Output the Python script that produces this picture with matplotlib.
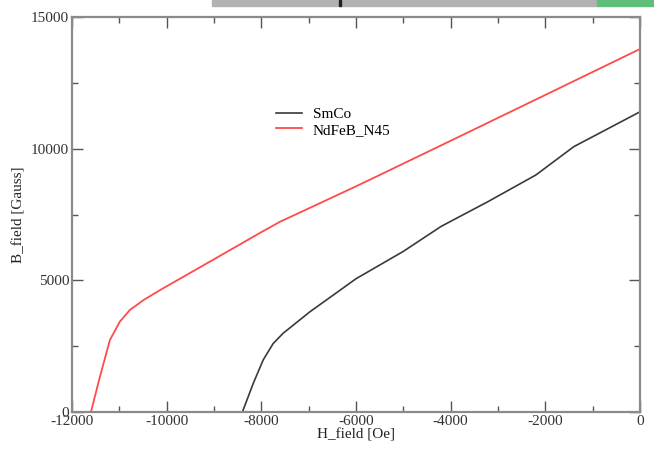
import matplotlib
matplotlib.use("Agg")
import matplotlib.pyplot as plt
from matplotlib.patches import Rectangle

# Demagnetization curves (H in Oe, B in Gauss)
smco_h = [-8400, -8170, -7960, -7750, -7540, -6970, -6000, -5000, -4200,
          -3200, -2200, -1400, 0]
smco_b = [0, 1090, 1980, 2600, 2990, 3810, 5060, 6100, 7050,
          8000, 9000, 10075, 11400]

ndfeb_h = [-11600, -11410, -11200, -10990, -10780, -10490, -10140, -9740,
           -9000, -8000, -7600, -7000, -6000, -5500, -4000, -2000, 0]
ndfeb_b = [0, 1340, 2730, 3430, 3870, 4250, 4630, 5040,
           5800, 6830, 7230, 7730, 8570, 9000, 10300, 12040, 13785]

x_ticks = [-12000, -10000, -8000, -6000, -4000, -2000, 0]
y_ticks = [0, 5000, 10000, 15000]

plt.rcParams["font.family"] = ["Liberation Serif", "DejaVu Serif"]
plt.rcParams["axes.unicode_minus"] = False

fig = plt.figure(figsize=(6.54, 4.54), dpi=100)
ax = fig.add_axes([72 / 654, 42 / 454, 568 / 654, 395 / 454])

ax.plot(smco_h, smco_b, color="#3a3a3a", lw=1.2, label="SmCo")
ax.plot(ndfeb_h, ndfeb_b, color="#ff4a4a", lw=1.3, label="NdFeB_N45")

ax.set_xlim(-12000, 0)
ax.set_ylim(0, 15000)
ax.set_xticks(x_ticks)
ax.set_yticks(y_ticks)
ax.set_xticks(range(-11000, 0, 2000), minor=True)
ax.set_yticks([2500, 7500, 12500], minor=True)

for s in ax.spines.values():
    s.set_color("#8a8a8a")
    s.set_linewidth(1.6)
ax.tick_params(which="both", direction="in", top=True, right=True,
               color="#555555", width=1.0, labelsize=11, labelcolor="#333333", pad=2)
ax.tick_params(which="major", length=8)
ax.tick_params(which="minor", length=4)

ax.set_xlabel("H_field [Oe]", fontsize=11, color="#222222", labelpad=0)
ax.set_ylabel("B_field [Gauss]", fontsize=11, color="#222222", labelpad=4)

ax.legend(loc="upper left", bbox_to_anchor=(0.335, 0.805), frameon=False,
          fontsize=11, handlelength=1.7, handletextpad=0.7, labelspacing=0.1)

# strip along the top edge
fig.patches.append(Rectangle((212 / 654, 448 / 454), 385 / 654, 6 / 454,
                             transform=fig.transFigure, color="#b2b2b2", zorder=0))
fig.patches.append(Rectangle((597 / 654, 448 / 454), 57 / 654, 6 / 454,
                             transform=fig.transFigure, color="#5fbf78", zorder=0))
fig.patches.append(Rectangle((339 / 654, 448 / 454), 2 / 654, 6 / 454,
                             transform=fig.transFigure, color="#222222", zorder=1))

fig.savefig("out.png", dpi=100)
